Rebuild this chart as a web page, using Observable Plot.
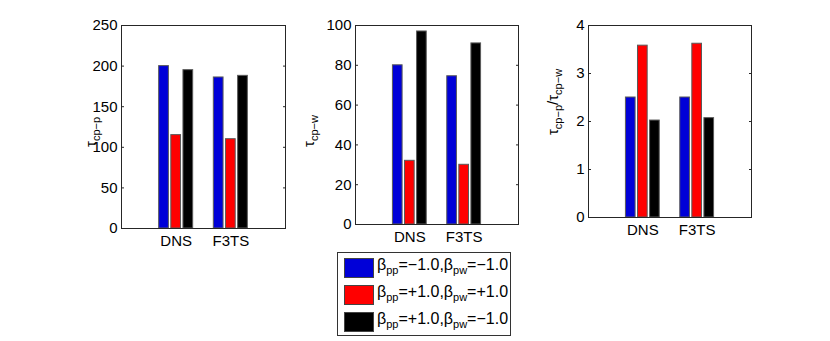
<!DOCTYPE html>
<html><head><meta charset="utf-8">
<script src="https://cdn.jsdelivr.net/npm/d3@7"></script>
<script src="https://cdn.jsdelivr.net/npm/@observablehq/plot@0.6"></script>
<style>
body{margin:0;background:#fff;}
#root{position:relative;width:830px;height:341px;font-family:"Liberation Sans",Arial,sans-serif;overflow:hidden;}
.panel{position:absolute;top:0;}
.panel svg{overflow:visible;}
#legend{position:absolute;left:337px;top:252px;width:174px;height:84px;border:1px solid #333;background:#fff;box-sizing:border-box;}
.row{position:absolute;left:6px;height:20px;}
.sw{position:absolute;left:0;top:0;width:30px;height:20px;box-sizing:border-box;border:1px solid #444;}
.lt{position:absolute;left:33px;top:-3px;font-size:16px;white-space:nowrap;line-height:20px;color:#000;}
.lt sub{font-size:11px;vertical-align:-4px;line-height:0;}
</style></head>
<body><div id="root"><div id="legend"></div></div>
<script>
// ---- data ----
const categories = ["DNS", "F3TS"];
const seriesColors = ["#0000d8", "#ff0000", "#000000"];
const betaPP = ["\u22121.0", "+1.0", "+1.0"];
const betaPW = ["\u22121.0", "+1.0", "\u22121.0"];
// values: one array per series, entries per category
const tauCpP = [[200, 186], [115, 110], [195, 188]];
const tauCpW = [[80, 74.5], [32, 30], [97, 91]];
const tauRatio = [[2.50, 2.50], [3.58, 3.62], [2.02, 2.07]];
const yTicksP = [0, 50, 100, 150, 200, 250];
const yTicksW = [0, 20, 40, 60, 80, 100];
const yTicksR = [0, 1, 2, 3, 4];

// ---- layout ----
const font = '"Liberation Sans", Arial, sans-serif';
const panels = [
  {values: tauCpP, ticks: yTicksP, left: 0, width: 300, mL: 121, mR: 15, mB: 32,
   label: [["\u03c4", 0], ["cp\u2212p", 1]], lx: 96, ly: 132},
  {values: tauCpW, ticks: yTicksW, left: 300, width: 240, mL: 55, mR: 22, mB: 36,
   label: [["\u03c4", 0], ["cp\u2212w", 1]], lx: 14, ly: 131},
  {values: tauRatio, ticks: yTicksR, left: 540, width: 290, mL: 48, mR: 79, mB: 43,
   label: [["\u03c4", 0], ["cp\u2212p", 1], ["/\u03c4", 0], ["cp\u2212w", 1]], lx: 18, ly: 102}
];
const H = 260, mT = 25;
const groupOffset = 0.2222, barHalf = 0.089;

const root = document.getElementById("root");
for (const p of panels) {
  const rows = [];
  p.values.forEach((ser, s) => ser.forEach((v, i) => rows.push({i, s, v})));
  const yMax = p.ticks[p.ticks.length - 1];
  const chart = Plot.plot({
    width: p.width, height: H,
    marginLeft: p.mL, marginRight: p.mR, marginTop: mT, marginBottom: p.mB,
    x: {domain: [0, 3], axis: null},
    y: {domain: [0, yMax], axis: null},
    style: {fontFamily: font, fontSize: "15px", color: "#000", background: "transparent", overflow: "visible"},
    marks: [
      Plot.rect(rows, {
        x1: d => d.i + 1 + (d.s - 1) * groupOffset - barHalf,
        x2: d => d.i + 1 + (d.s - 1) * groupOffset + barHalf,
        y1: 0, y2: d => d.v,
        fill: d => seriesColors[d.s], stroke: "#5a5a5a", strokeWidth: 1
      }),
      Plot.frame({stroke: "#262626"}),
      Plot.axisY({ticks: p.ticks, anchor: "left", tickSize: -3, tickPadding: 7, label: null, fontSize: 15,
        stroke: "#262626", tickFormat: d => String(d)}),
      Plot.axisY({ticks: p.ticks, anchor: "right", tickSize: -3, tickFormat: () => "", label: null, stroke: "#262626"}),
      Plot.axisX({ticks: [1, 2], anchor: "bottom", tickSize: 0, tickPadding: 7, label: null, fontSize: 15,
        tickFormat: d => categories[d - 1]})
    ]
  });
  const wrap = document.createElement("div");
  wrap.className = "panel";
  wrap.style.left = p.left + "px";
  wrap.appendChild(chart);
  root.appendChild(wrap);
  // y label with subscripts
  const svg = d3.select(chart);
  const t = svg.append("text")
    .attr("transform", `translate(${p.lx},${p.ly}) rotate(-90)`)
    .attr("text-anchor", "middle")
    .attr("font-family", font)
    .attr("fill", "#000");
  let level = 0;
  for (const [txt, sub] of p.label) {
    const dy = (sub - level) * 4;
    level = sub;
    t.append("tspan").attr("dy", dy).attr("font-size", sub ? 11 : 15).text(txt);
  }
}

// legend
const legend = document.getElementById("legend");
seriesColors.forEach((c, s) => {
  const row = document.createElement("div");
  row.className = "row";
  row.style.top = (5 + s * 27) + "px";
  row.innerHTML = `<div class="sw" style="background:${c}"></div>` +
    `<div class="lt">\u03b2<sub>pp</sub>=${betaPP[s]},\u03b2<sub>pw</sub>=${betaPW[s]}</div>`;
  legend.appendChild(row);
});
</script>
</body></html>
